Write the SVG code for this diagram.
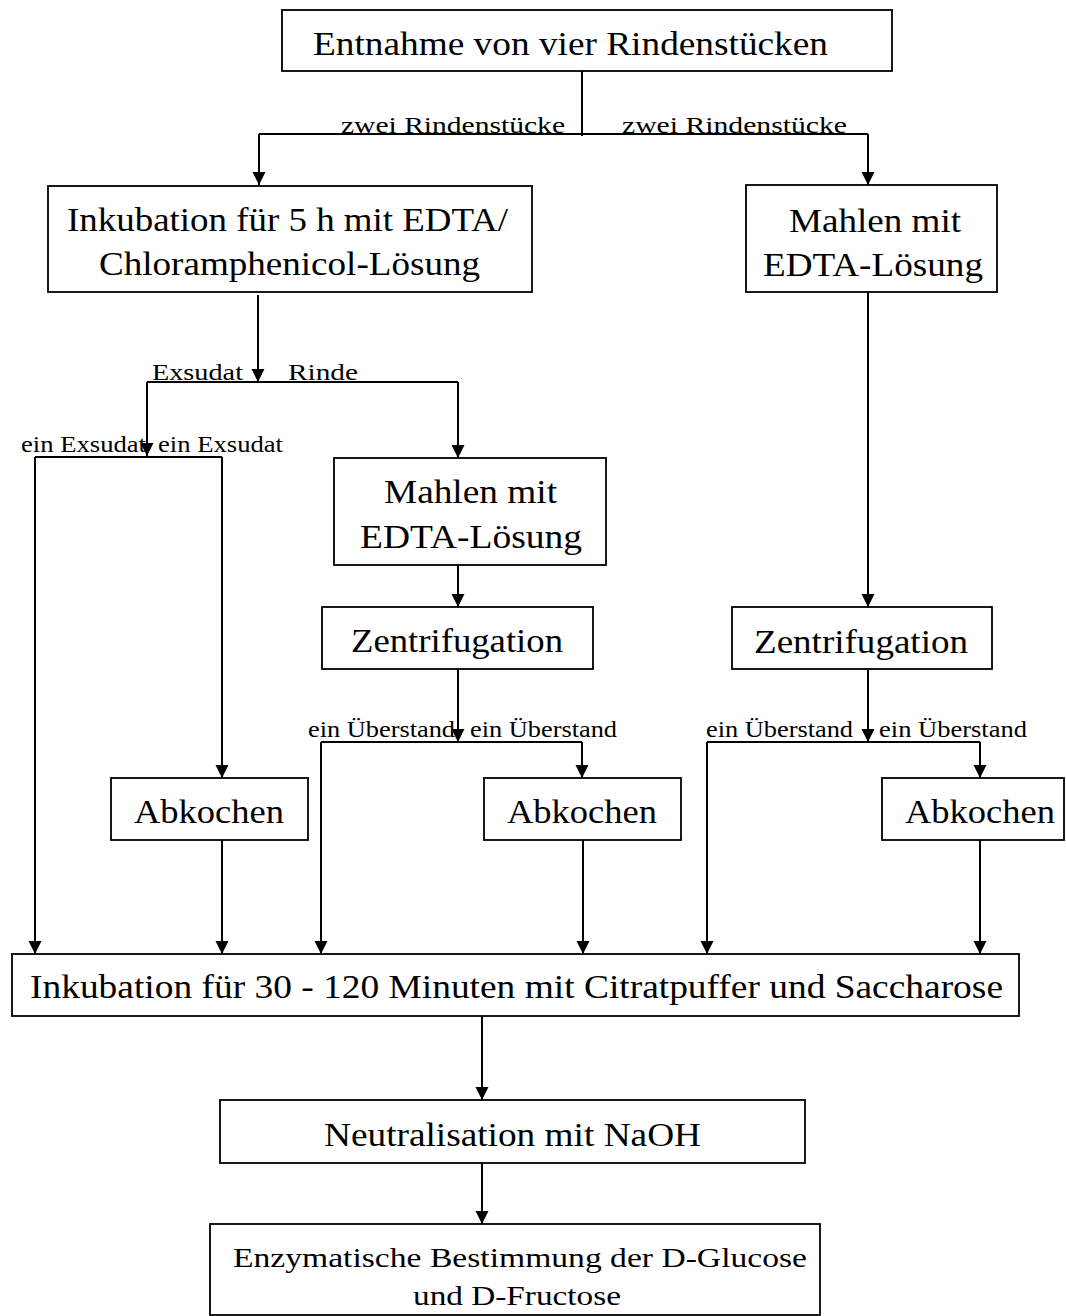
<svg xmlns="http://www.w3.org/2000/svg" width="1066" height="1316" viewBox="0 0 1066 1316">
  <defs>
    <marker id="arrow" markerUnits="userSpaceOnUse" markerWidth="14" markerHeight="14" refX="13" refY="6.5" orient="auto">
      <path d="M0,0 L13,6.5 L0,13 z" fill="#000"/>
    </marker>
    <style>
      .box { fill: #fff; stroke: #000; stroke-width: 1.8; }
      .big { font-family: "Liberation Serif", "Times New Roman", serif; font-size: 33px; fill: #000; }
      .mid { font-family: "Liberation Serif", "Times New Roman", serif; font-size: 28px; fill: #000; }
      .lbl { font-family: "Liberation Serif", "Times New Roman", serif; font-size: 24px; fill: #000; }
      .ln { fill: none; stroke: #000; stroke-width: 2; }
      .ar { fill: none; stroke: #000; stroke-width: 2; marker-end: url(#arrow); }
    </style>
  </defs>
  <rect width="1066" height="1316" fill="#fff"/>

  <!-- connectors -->
  <g id="connectors">
    <!-- split of the four bark pieces -->
    <line class="ln" x1="582" y1="71" x2="582" y2="136"/>
    <line class="ln" x1="259" y1="134" x2="868" y2="134"/>
    <line class="ar" x1="259" y1="134" x2="259" y2="185"/>
    <line class="ar" x1="868" y1="134" x2="868" y2="185"/>
    <!-- exudate / bark split -->
    <line class="ar" x1="258" y1="295" x2="258" y2="382"/>
    <line class="ln" x1="147" y1="382" x2="458" y2="382"/>
    <line class="ar" x1="147" y1="382" x2="147" y2="456"/>
    <line class="ar" x1="458" y1="382" x2="458" y2="458"/>
    <!-- exudate halves -->
    <line class="ln" x1="35" y1="457" x2="222" y2="457"/>
    <line class="ar" x1="35" y1="457" x2="35" y2="954"/>
    <line class="ar" x1="222" y1="457" x2="222" y2="778"/>
    <line class="ar" x1="222" y1="840" x2="222" y2="954"/>
    <!-- middle column -->
    <line class="ar" x1="458" y1="565" x2="458" y2="607"/>
    <line class="ar" x1="458" y1="669" x2="458" y2="742"/>
    <line class="ln" x1="321" y1="742" x2="582" y2="742"/>
    <line class="ar" x1="321" y1="742" x2="321" y2="954"/>
    <line class="ar" x1="582" y1="742" x2="582" y2="778"/>
    <line class="ar" x1="583" y1="840" x2="583" y2="954"/>
    <!-- right column -->
    <line class="ar" x1="868" y1="292" x2="868" y2="607"/>
    <line class="ar" x1="868" y1="669" x2="868" y2="742"/>
    <line class="ln" x1="707" y1="742" x2="980" y2="742"/>
    <line class="ar" x1="707" y1="742" x2="707" y2="954"/>
    <line class="ar" x1="980" y1="742" x2="980" y2="778"/>
    <line class="ar" x1="980" y1="840" x2="980" y2="954"/>
    <!-- final steps -->
    <line class="ar" x1="482" y1="1013" x2="482" y2="1100"/>
    <line class="ar" x1="482" y1="1163" x2="482" y2="1224"/>

    <!-- branch labels -->
    <text class="lbl" x="341" y="133" textLength="224" lengthAdjust="spacingAndGlyphs">zwei Rindenstücke</text>
    <text class="lbl" x="622" y="133" textLength="225" lengthAdjust="spacingAndGlyphs">zwei Rindenstücke</text>
    <text class="lbl" x="152" y="380" textLength="91" lengthAdjust="spacingAndGlyphs">Exsudat</text>
    <text class="lbl" x="288" y="380" textLength="70" lengthAdjust="spacingAndGlyphs">Rinde</text>
    <text class="lbl" x="21" y="452" textLength="125" lengthAdjust="spacingAndGlyphs">ein Exsudat</text>
    <text class="lbl" x="158" y="452" textLength="125" lengthAdjust="spacingAndGlyphs">ein Exsudat</text>
    <text class="lbl" x="308" y="737" textLength="147" lengthAdjust="spacingAndGlyphs">ein Überstand</text>
    <text class="lbl" x="470" y="737" textLength="147" lengthAdjust="spacingAndGlyphs">ein Überstand</text>
    <text class="lbl" x="706" y="737" textLength="147" lengthAdjust="spacingAndGlyphs">ein Überstand</text>
    <text class="lbl" x="879" y="737" textLength="148" lengthAdjust="spacingAndGlyphs">ein Überstand</text>
  </g>

  <g id="entnahme">
    <rect class="box" x="282" y="10" width="610" height="61"/>
    <text class="big" x="313" y="55" textLength="515" lengthAdjust="spacingAndGlyphs">Entnahme von vier Rindenstücken</text>
  </g>

  <g id="inkubation-edta">
    <rect class="box" x="48" y="186" width="484" height="106"/>
    <text class="big" x="67" y="231" textLength="441" lengthAdjust="spacingAndGlyphs">Inkubation für 5 h mit EDTA/</text>
    <text class="big" x="99" y="275" textLength="381" lengthAdjust="spacingAndGlyphs">Chloramphenicol-Lösung</text>
  </g>

  <g id="mahlen-rechts">
    <rect class="box" x="746" y="185" width="251" height="107"/>
    <text class="big" x="789" y="232" textLength="172" lengthAdjust="spacingAndGlyphs">Mahlen mit</text>
    <text class="big" x="763" y="276" textLength="220" lengthAdjust="spacingAndGlyphs">EDTA-Lösung</text>
  </g>

  <g id="mahlen-mitte">
    <rect class="box" x="334" y="458" width="272" height="107"/>
    <text class="big" x="384" y="503" textLength="173" lengthAdjust="spacingAndGlyphs">Mahlen mit</text>
    <text class="big" x="360" y="548" textLength="222" lengthAdjust="spacingAndGlyphs">EDTA-Lösung</text>
  </g>

  <g id="zentrifugation-mitte">
    <rect class="box" x="322" y="607" width="271" height="62"/>
    <text class="big" x="351" y="652" textLength="212" lengthAdjust="spacingAndGlyphs">Zentrifugation</text>
  </g>

  <g id="zentrifugation-rechts">
    <rect class="box" x="732" y="607" width="260" height="62"/>
    <text class="big" x="754" y="653" textLength="214" lengthAdjust="spacingAndGlyphs">Zentrifugation</text>
  </g>

  <g id="abkochen-links">
    <rect class="box" x="111" y="778" width="197" height="62"/>
    <text class="big" x="134" y="823" textLength="150" lengthAdjust="spacingAndGlyphs">Abkochen</text>
  </g>

  <g id="abkochen-mitte">
    <rect class="box" x="484" y="778" width="197" height="62"/>
    <text class="big" x="507" y="823" textLength="150" lengthAdjust="spacingAndGlyphs">Abkochen</text>
  </g>

  <g id="abkochen-rechts">
    <rect class="box" x="882" y="778" width="182" height="62"/>
    <text class="big" x="905" y="823" textLength="150" lengthAdjust="spacingAndGlyphs">Abkochen</text>
  </g>

  <g id="inkubation-citrat">
    <rect class="box" x="12" y="954" width="1007" height="62"/>
    <text class="big" x="30" y="998" textLength="973" lengthAdjust="spacingAndGlyphs">Inkubation für 30 - 120 Minuten mit Citratpuffer und Saccharose</text>
  </g>

  <g id="neutralisation">
    <rect class="box" x="220" y="1100" width="585" height="63"/>
    <text class="big" x="324" y="1146" textLength="377" lengthAdjust="spacingAndGlyphs">Neutralisation mit NaOH</text>
  </g>

  <g id="bestimmung">
    <rect class="box" x="210" y="1224" width="610" height="91"/>
    <text class="mid" x="233" y="1267" textLength="574" lengthAdjust="spacingAndGlyphs">Enzymatische Bestimmung der D-Glucose</text>
    <text class="mid" x="413" y="1305" textLength="208" lengthAdjust="spacingAndGlyphs">und D-Fructose</text>
  </g>
</svg>
